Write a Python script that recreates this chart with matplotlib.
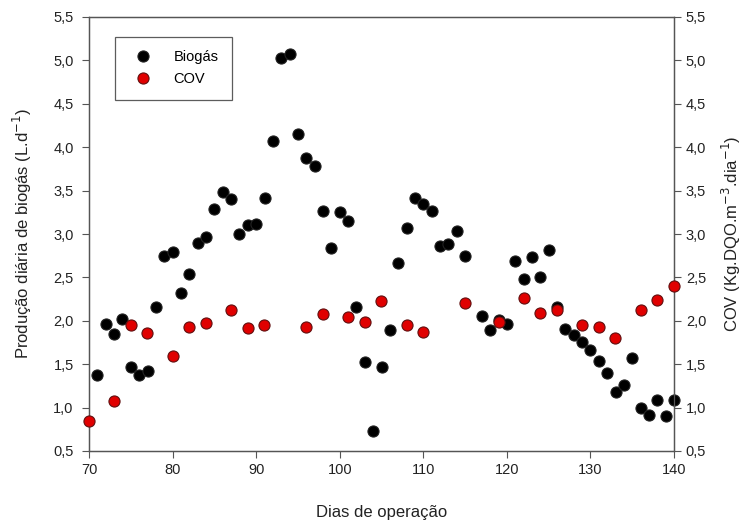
import numpy as np
import matplotlib
matplotlib.use('Agg')
import matplotlib.pyplot as plt
from matplotlib.ticker import FuncFormatter

plt.rcParams['font.family'] = ['Liberation Sans', 'DejaVu Sans']

# Biogas daily production (L/d)
dias_bio = [71, 72, 73, 74, 75, 76, 77, 78, 79, 80,
            81, 82, 83, 84, 85, 86, 87, 88, 89, 90,
            91, 92, 93, 94, 95, 96, 97, 98, 99, 100,
            101, 102, 103, 104, 105, 106, 107, 108, 109, 110,
            111, 112, 113, 114, 115, 117, 118, 119, 120,
            121, 122, 123, 124, 125, 126, 127, 128, 129, 130,
            131, 132, 133, 134, 135, 136, 137, 138, 139, 140]
biogas = [1.37, 1.96, 1.85, 2.02, 1.47, 1.38, 1.42, 2.16, 2.75, 2.79,
          2.32, 2.54, 2.90, 2.96, 3.29, 3.48, 3.40, 3.00, 3.10, 3.12,
          3.42, 4.07, 5.03, 5.07, 4.15, 3.88, 3.78, 3.27, 2.84, 3.25,
          3.15, 2.16, 1.53, 0.73, 1.47, 1.89, 2.67, 3.07, 3.41, 3.35,
          3.27, 2.86, 2.88, 3.03, 2.75, 2.05, 1.89, 2.01, 1.96,
          2.69, 2.48, 2.74, 2.51, 2.82, 2.16, 1.90, 1.84, 1.76, 1.66,
          1.54, 1.40, 1.18, 1.26, 1.57, 0.99, 0.91, 1.09, 0.90, 1.09]

# Organic volumetric load (COV)
dias_cov = [70, 73, 75, 77, 80, 82, 84, 87, 89, 91,
            96, 98, 101, 103, 105, 108, 110, 115, 119, 122,
            124, 126, 129, 131, 133, 136, 138, 140]
cov = [0.85, 1.08, 1.95, 1.86, 1.59, 1.93, 1.98, 2.12, 1.92, 1.95,
       1.93, 2.08, 2.04, 1.99, 2.23, 1.95, 1.87, 2.21, 1.99, 2.26,
       2.09, 2.13, 1.95, 1.93, 1.80, 2.13, 2.24, 2.40]

yticks = np.arange(0.5, 5.51, 0.5)
fmt = FuncFormatter(lambda v, p: f"{v:.1f}".replace('.', ','))
spine_col = '#555555'

fig = plt.figure(figsize=(7.44, 5.24), dpi=100)
ax = fig.add_axes([89/744, 73/524, 585/744, 434/524])
ax2 = ax.twinx()

h1, = ax.plot(dias_bio, biogas, 'o', color='black', markeredgecolor='#222222',
              markersize=8, markeredgewidth=0.8, label='Biogás', zorder=3,
              clip_on=False)
h2, = ax2.plot(dias_cov, cov, 'o', color='#e00000', markeredgecolor='#601010',
               markersize=8, markeredgewidth=0.8, label='COV', zorder=4,
               clip_on=False)

for a in (ax, ax2):
    a.set_xlim(70, 140)
    a.set_ylim(0.5, 5.5)
    a.set_yticks(yticks)
    a.yaxis.set_major_formatter(fmt)
    a.tick_params(direction='out', length=5, width=0.8, color=spine_col,
                  labelsize=10.5, labelcolor='#222222')
    for s in a.spines.values():
        s.set_color(spine_col)
        s.set_linewidth(0.9)
ax.tick_params(axis='y', pad=6)

ax.set_xticks(np.arange(70, 141, 10))
ax.set_xlabel("Dias de operação", fontsize=12, color='#222222', labelpad=20)
ax.set_ylabel("Produção diária de biogás (L.d$^{-1}$)", fontsize=12, color='#222222', labelpad=14)
ax2.set_ylabel("COV (Kg.DQO.m$^{-3}$.dia$^{-1}$)", fontsize=12, color='#222222', labelpad=10)

leg = ax.legend(handles=[h1, h2], loc='upper left', bbox_to_anchor=(0.045, 0.955),
                fontsize=10.5, frameon=True, fancybox=False, borderpad=0.9,
                handletextpad=1.1, labelspacing=0.6, borderaxespad=0)
leg.get_frame().set_edgecolor('#333333')
leg.get_frame().set_linewidth(0.9)
leg.set_zorder(5)

plt.savefig("out.png", dpi=100)
plt.close()
